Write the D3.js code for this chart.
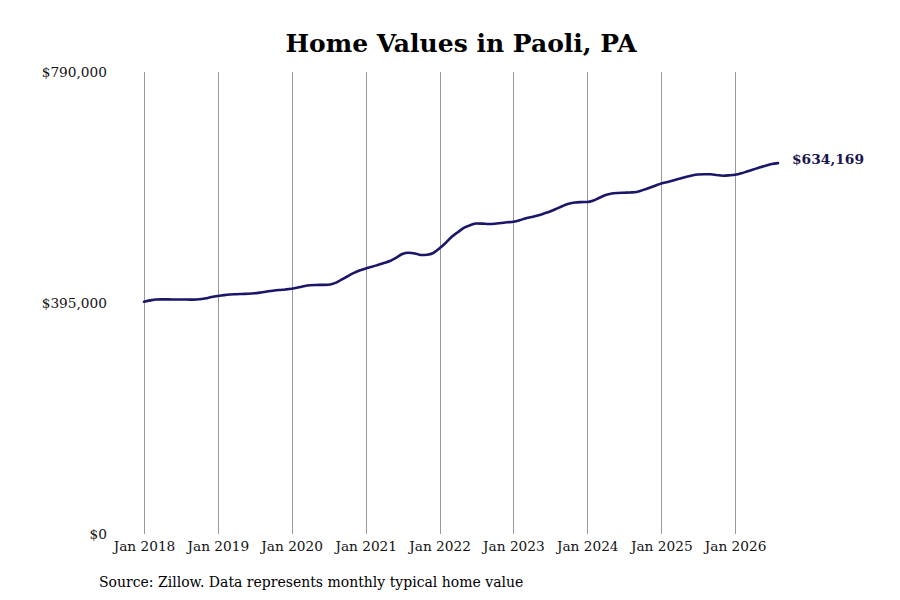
<!DOCTYPE html>
<html>
<head>
<meta charset="utf-8">
<script src="https://cdn.jsdelivr.net/npm/d3@7"></script>
<style>
  body { margin: 0; background: #fff; }
  svg { display: block; }
  .grid line { stroke: #999; stroke-width: 1; }
  .xlab { font-family: "DejaVu Serif", serif; font-size: 13.7px; fill: #111; }
  .ylab { font-family: "DejaVu Serif", serif; font-size: 13.7px; fill: #111; }
</style>
</head>
<body>
<div id="chart"></div>
<script>
(function (d3) {
  'use strict';

  // monthly typical home value, Jan 2018 onwards
  var startMonth = '2018-01';
  var homeValues = [
    397200, 399500, 401000, 401200, 401200, 401000, 400900, 400900, 400800, 401300, 403000, 405200,
    407000, 408500, 409500, 410000, 410400, 410800, 411600, 413000, 414600, 416000, 417200, 418200,
    419500, 421500, 423700, 425300, 425800, 426000, 426300, 429000, 434500, 440300, 446000, 450500,
    454000, 457000, 460000, 463400, 466800, 472500, 478800, 481000, 479800, 477100, 477600, 480500,
    488500, 498000, 507900, 516000, 523300, 528000, 531000, 530800, 530100, 530600, 531800, 533000,
    534000, 536500, 539500, 542000, 544600, 548000, 551500, 556000, 560900, 564800, 566900, 567500,
    567700, 570300, 575000, 579700, 582300, 583200, 583600, 584000, 584800, 588000, 591700, 595500,
    599300, 602000, 604500, 607500, 610500, 613000, 614700, 615200, 615100, 614000, 612700, 613200,
    614200, 616800, 619900, 623300, 626700, 629900, 632700, 634169
  ];
  var yTicks = [0, 395000, 790000];
  var xTickYears = [2018, 2019, 2020, 2021, 2022, 2023, 2024, 2025, 2026];
  var title = 'Home Values in Paoli, PA';
  var source = 'Source: Zillow. Data represents monthly typical home value';

  var width = 900, height = 600;
  var left = 144, right = 778, top = 72, bottom = 534;

  var parseMonth = d3.timeParse('%Y-%m');
  var t0 = parseMonth(startMonth);
  var data = homeValues.map(function (v, i) {
    return { date: d3.timeMonth.offset(t0, i), value: v };
  });

  var x = d3.scaleTime()
    .domain(d3.extent(data, function (d) { return d.date; }))
    .range([left, right]);
  var y = d3.scaleLinear().domain([0, 790000]).range([bottom, top]);

  var svg = d3.select('#chart').append('svg')
    .attr('width', width).attr('height', height);

  var tickDates = xTickYears.map(function (yr) { return new Date(yr, 0, 1); });

  // vertical grid
  svg.append('g').attr('class', 'grid')
    .selectAll('line').data(tickDates).enter().append('line')
    .attr('x1', function (d) { return Math.round(x(d)) + 0.5; })
    .attr('x2', function (d) { return Math.round(x(d)) + 0.5; })
    .attr('y1', top).attr('y2', bottom);

  // x labels
  var xAxis = d3.axisBottom(x).tickValues(tickDates)
    .tickFormat(d3.timeFormat('Jan %Y')).tickSize(0).tickPadding(0);
  var gx = svg.append('g').attr('transform', 'translate(0,' + bottom + ')').call(xAxis);
  gx.select('.domain').remove();
  gx.attr('font-family', null).attr('font-size', null);
  gx.selectAll('text').attr('class', 'xlab').attr('dy', null).attr('y', 17);

  // y labels
  var yAxis = d3.axisLeft(y).tickValues(yTicks)
    .tickFormat(d3.format('$,.0f')).tickSize(0).tickPadding(0);
  var gy = svg.append('g').attr('transform', 'translate(107,0)').call(yAxis);
  gy.select('.domain').remove();
  gy.attr('font-family', null).attr('font-size', null);
  gy.selectAll('text').attr('class', 'ylab');

  // line
  var line = d3.line()
    .x(function (d) { return x(d.date); })
    .y(function (d) { return y(d.value); })
    .curve(d3.curveMonotoneX);
  svg.append('path').datum(data)
    .attr('d', line)
    .attr('fill', 'none')
    .attr('stroke', '#1a166a')
    .attr('stroke-width', 2.6)
    .attr('stroke-linecap', 'round');

  // end label
  var last = data[data.length - 1];
  svg.append('text')
    .attr('x', x(last.date) + 14)
    .attr('y', y(last.value))
    .attr('dy', '0.05em')
    .style('font-family', '"DejaVu Serif", serif')
    .style('font-weight', 'bold')
    .style('font-size', '13.8px')
    .style('fill', '#1a1650')
    .text(d3.format('$,.0f')(last.value));

  // title
  svg.append('text')
    .attr('x', 461).attr('y', 52)
    .attr('text-anchor', 'middle')
    .style('font-family', '"DejaVu Serif", serif')
    .style('font-weight', 'bold')
    .style('font-size', '25px')
    .style('fill', '#000')
    .text(title);

  // source note
  svg.append('text')
    .attr('x', 99).attr('y', 587)
    .style('font-family', '"DejaVu Serif", serif')
    .style('font-size', '14px')
    .style('fill', '#000')
    .text(source);
})(window.d3);
</script>
</body>
</html>
